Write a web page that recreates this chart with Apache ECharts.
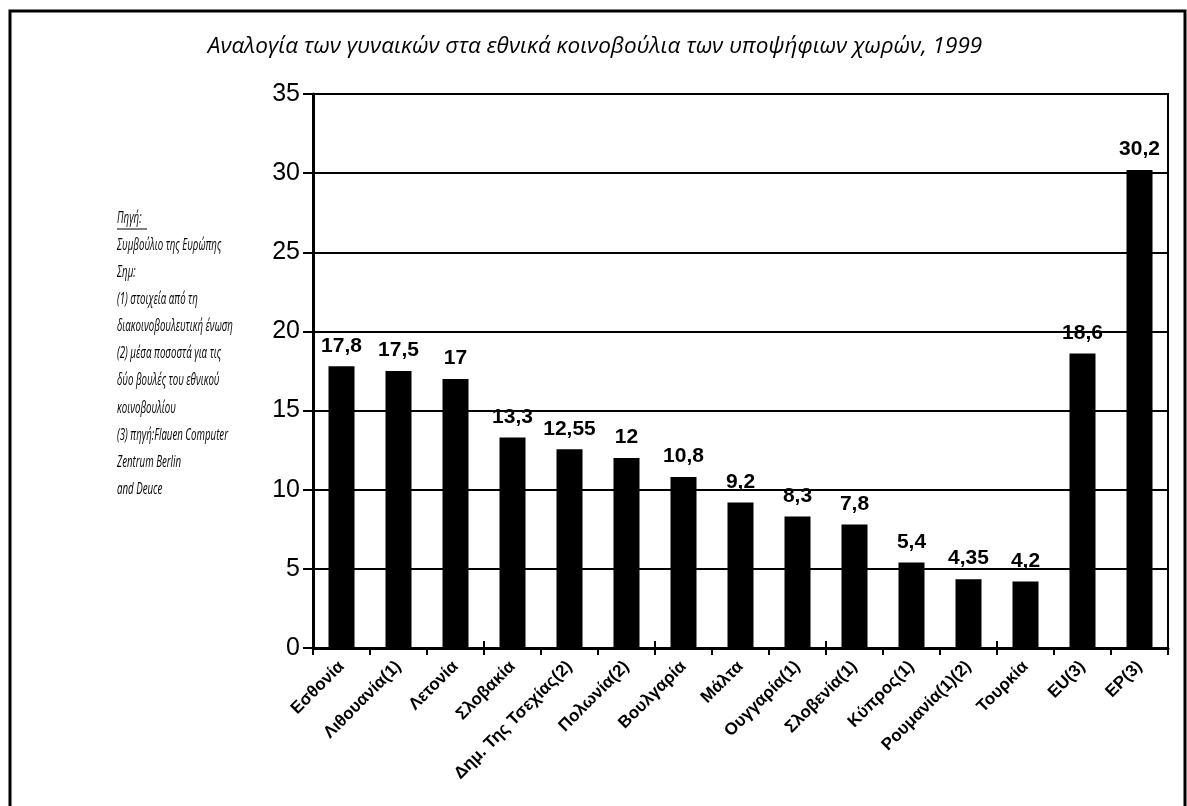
<!DOCTYPE html>
<html><head><meta charset="utf-8">
<script src="https://cdn.jsdelivr.net/npm/echarts@6/dist/echarts.min.js"></script>
<style>html,body{margin:0;padding:0;background:#fff}#c{width:1187px;height:806px}</style>
</head><body><div id="c"></div>
<script>
const titleText = 'Αναλογία των γυναικών στα εθνικά κοινοβούλια των υποψήφιων χωρών, 1999';
const categories = ['Εσθονία','Λιθουανία(1)','Λετονία','Σλοβακία','Δημ. Της Τσεχίας(2)','Πολωνία(2)','Βουλγαρία','Μάλτα','Ουγγαρία(1)','Σλοβενία(1)','Κύπρος(1)','Ρουμανία(1)(2)','Τουρκία','EU(3)','EP(3)'];
const values = [17.8, 17.5, 17, 13.3, 12.55, 12, 10.8, 9.2, 8.3, 7.8, 5.4, 4.35, 4.2, 18.6, 30.2];
const yMin = 0, yMax = 35, yStep = 5;
const noteLines = ['Πηγή:','Συμβούλιο της Ευρώπης','Σημ:','(1) στοιχεία από τη','διακοινοβουλευτική ένωση','(2) μέσα ποσοστά για τις','δύο βουλές του εθνικού','κοινοβουλίου','(3) πηγή:Flauen Computer','Zentrum Berlin','and Deuce'];

const chart = echarts.init(document.getElementById('c'), null, {renderer:'canvas'});
const noteFont = "italic 17px 'Open Sans'";
const noteGraphics = noteLines.map((t, i) => ({
  type: 'text', x: 117, y: 218 + i * 27.1, scaleX: 0.57,
  style: { text: t, font: noteFont, fill: '#000', textVerticalAlign: 'middle', textAlign: 'left' }
}));
const graphic = [
  { type: 'rect', shape: { x: 10, y: 11, width: 1175, height: 900 }, style: { fill: 'none', stroke: '#000', lineWidth: 3 } },
  { type: 'text', x: 595, y: 47, style: { text: titleText, font: "italic 22.5px 'Open Sans'", fill: '#000', textAlign: 'center', textVerticalAlign: 'middle' } },
  { type: 'line', shape: { x1: 117, y1: 229, x2: 147, y2: 229 }, style: { stroke: '#000', lineWidth: 1 } }
].concat(noteGraphics);

const xCommon = { type: 'category', data: categories, position: 'bottom' };
chart.setOption({
  animation: false,
  backgroundColor: '#fff',
  graphic: graphic,
  grid: { left: 313, right: 19, top: 94, bottom: 158, show: true, borderColor: '#000', borderWidth: 2, backgroundColor: 'transparent' },
  xAxis: [
    Object.assign({}, xCommon, {
      axisLine: { lineStyle: { color: '#000', width: 3 } },
      axisTick: { show: true, length: 7, lineStyle: { color: '#000', width: 2 } },
      axisLabel: { rotate: 45, margin: 16, fontSize: 17, fontWeight: 'bold', color: '#000', fontFamily: 'Liberation Sans, Arial, sans-serif', interval: 0 }
    }),
    Object.assign({}, xCommon, {
      axisLine: { show: false },
      axisTick: { show: true, inside: true, length: 7, lineStyle: { color: '#000', width: 2 } },
      axisLabel: { show: false }
    })
  ],
  yAxis: {
    type: 'value', min: yMin, max: yMax, interval: yStep,
    axisLine: { show: true, lineStyle: { color: '#000', width: 3 } },
    axisTick: { show: true, length: 10, lineStyle: { color: '#000', width: 2 } },
    axisLabel: { margin: 13, fontSize: 25, color: '#000', fontFamily: 'Liberation Sans, Arial, sans-serif' },
    splitLine: { show: true, lineStyle: { color: '#000', width: 2 } }
  },
  series: [{
    type: 'bar', data: values, barWidth: 26, xAxisIndex: 0,
    itemStyle: { color: '#000' },
    label: {
      show: true, position: 'top', distance: 10, color: '#000', fontSize: 21, fontWeight: 'bold',
      fontFamily: 'Liberation Sans, Arial, sans-serif',
      formatter: p => String(p.value).replace('.', ',')
    }
  }]
});
</script></body></html>
